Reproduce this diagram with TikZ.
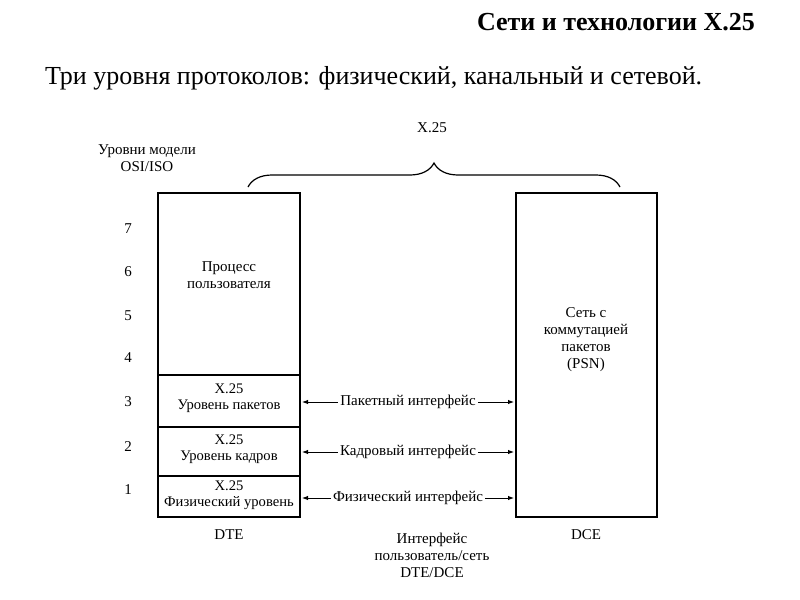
\documentclass[tikz,border=0pt]{standalone}
\usepackage{fontspec}
\setmainfont{Liberation Serif}
\usetikzlibrary{decorations.pathreplacing,arrows.meta}
\begin{document}
\begin{tikzpicture}[x=0.5pt,y=-0.5pt,
  lbl/.style={font=\fontsize{7.5}{8.5}\selectfont, align=center, inner sep=1pt},
  lay/.style={font=\fontsize{7.3}{7.8}\selectfont, align=center, inner sep=1pt},
  box/.style={draw, line width=0.6pt},
  arr/.style={{Latex[length=3pt]}-{Latex[length=3pt]}, line width=0.5pt}]
\useasboundingbox (0,0) rectangle (800,600);
\node[anchor=east, font=\bfseries\fontsize{13}{15}\selectfont] (title) at (762,22) {Сети и технологии X.25};
\node[anchor=west, font=\fontsize{13}{15}\selectfont] (sub) at (38,78) {Три уровня протоколов: физический, канальный и сетевой.};
\node[lbl] (x25) at (432,128) {X.25};
\draw[line width=0.6pt, decorate, decoration={brace, amplitude=12pt}] (248,187) -- (620,187);
\node[lbl] (osi) at (147,158) {Уровни модели\\OSI/ISO};
\draw[box] (158,193) rectangle (300,517);
\draw[box] (158,375) -- (300,375) (158,427) -- (300,427) (158,476) -- (300,476);
\draw[box] (516,193) rectangle (657,517);
\foreach \n/\y in {7/229,6/272,5/316,4/358,3/402,2/447,1/490}
  \node[lbl] (n\n) at (128,\y) {\n};
\node[lbl] (proc) at (229,275) {Процесс\\пользователя};
\node[lay] (l3) at (229,398) {X.25\\Уровень пакетов};
\node[lay] (l2) at (229,449) {X.25\\Уровень кадров};
\node[lay] (l1) at (229,495) {X.25\\Физический уровень};
\node[lbl] (psn) at (586,340) {Сеть с\\коммутацией\\пакетов\\(PSN)};
\coordinate (a1) at (302,402); \coordinate (b1) at (514,402);
\coordinate (a2) at (302,452); \coordinate (b2) at (514,452);
\coordinate (a3) at (302,498); \coordinate (b3) at (514,498);
\draw[arr] (a1) -- (b1) node[midway, fill=white, lbl] {Пакетный интерфейс};
\draw[arr] (a2) -- (b2) node[midway, fill=white, lbl] {Кадровый интерфейс};
\draw[arr] (a3) -- (b3) node[midway, fill=white, lbl] {Физический интерфейс};
\node[lbl] (dte) at (229,535) {DTE};
\node[lbl] (dce) at (586,535) {DCE};
\node[lbl] (ifc) at (432,555) {Интерфейс\\пользователь/сеть\\DTE/DCE};
\end{tikzpicture}
\end{document}
